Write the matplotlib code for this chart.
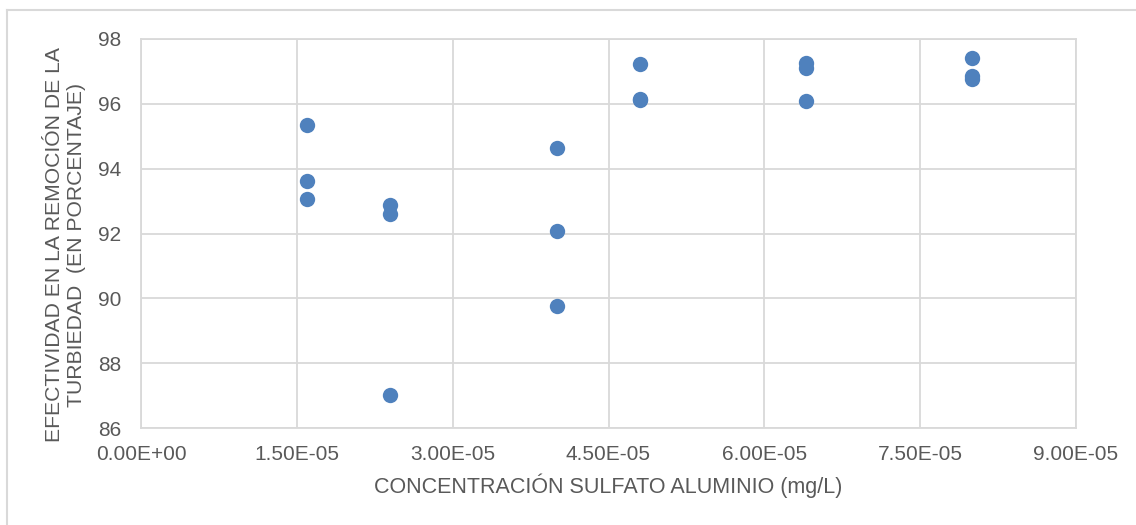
import matplotlib.pyplot as plt
from matplotlib.ticker import FuncFormatter, MultipleLocator
from matplotlib.lines import Line2D

# Concentración de sulfato de aluminio (mg/L) y efectividad (%)
concentracion = [1.6e-05, 1.6e-05, 1.6e-05,
                 2.4e-05, 2.4e-05, 2.4e-05,
                 4.0e-05, 4.0e-05, 4.0e-05,
                 4.8e-05, 4.8e-05, 4.8e-05,
                 6.4e-05, 6.4e-05, 6.4e-05,
                 8.0e-05, 8.0e-05, 8.0e-05]
efectividad = [95.35, 93.62, 93.06,
               92.88, 92.60, 87.02,
               94.64, 92.08, 89.76,
               97.23, 96.15, 96.12,
               97.26, 97.11, 96.09,
               97.41, 96.87, 96.77]

gris_texto = '#595959'
gris_linea = '#d9d9d9'

plt.rcParams['font.family'] = ['Liberation Sans', 'DejaVu Sans']

fig = plt.figure(figsize=(11.36, 5.25), dpi=100)
ax = fig.add_axes([141 / 1136, 1 - 428 / 525, (1076 - 141) / 1136, (428 - 39) / 525])

ax.scatter(concentracion, efectividad, s=122, color='#4f81bd', zorder=3, linewidths=0)

ax.set_xlim(0, 9e-05)
ax.set_ylim(86, 98)
ax.xaxis.set_major_locator(MultipleLocator(1.5e-05))
ax.yaxis.set_major_locator(MultipleLocator(2))
ax.xaxis.set_major_formatter(FuncFormatter(lambda v, p: f'{v:.2E}'))
ax.grid(True, color=gris_linea, linewidth=1.3)
ax.set_axisbelow(True)
ax.tick_params(length=0, labelsize=15, labelcolor=gris_texto)
ax.tick_params(axis='x', pad=12)
ax.tick_params(axis='y', pad=14)
for s in ax.spines.values():
    s.set_color(gris_linea)
    s.set_linewidth(1.3)

ax.set_xlabel('CONCENTRACIÓN SULFATO ALUMINIO (mg/L)', fontsize=15.5, color=gris_texto, labelpad=7)
fig.text(66 / 1136, 1 - 245 / 525,
         'EFECTIVIDAD EN LA REMOCIÓN DE LA\nTURBIEDAD  (EN PORCENTAJE)',
         rotation=90, ha='center', va='center', multialignment='center',
         fontsize=15.2, color=gris_texto, linespacing=1.2)

# marco exterior del gráfico
fig.add_artist(Line2D([7 / 1136, 7 / 1136], [0, 1 - 10 / 525], color=gris_linea, linewidth=1.5))
fig.add_artist(Line2D([7 / 1136, 1], [1 - 10 / 525, 1 - 10 / 525], color=gris_linea, linewidth=1.5))

fig.savefig('out.png', dpi=100)
